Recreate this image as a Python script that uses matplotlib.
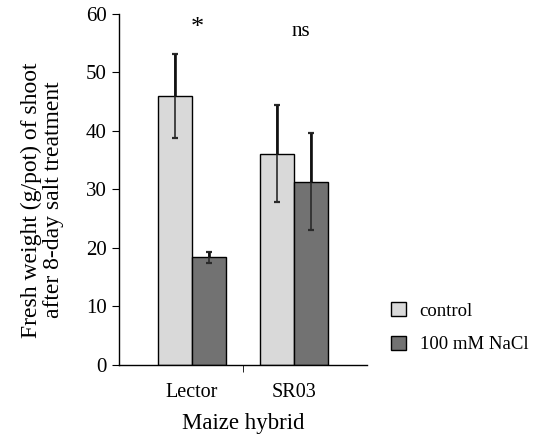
import matplotlib
matplotlib.use("Agg")
import matplotlib.pyplot as plt
import numpy as np
from matplotlib.patches import Patch

plt.rcParams['font.family'] = ['Liberation Serif', 'DejaVu Serif']

categories = ["Lector", "SR03"]
control = [46.0, 36.1]
control_err = [7.2, 8.3]
nacl = [18.4, 31.3]
nacl_err = [0.95, 8.3]
signif = ["*", "ns"]
series_labels = ["control", "100 mM NaCl"]

fig = plt.figure(figsize=(5.39, 4.34), dpi=100)
ax = fig.add_axes([0.221, 0.159, 0.46, 0.809])

x = np.arange(len(categories))
w = 0.33
c1, c2 = "#d9d9d9", "#727272"
ax.bar(x - w/2, control, w, color=c1, edgecolor="black", linewidth=1.0, zorder=2)
ax.bar(x + w/2, nacl, w, color=c2, edgecolor="black", linewidth=1.0, zorder=2)

for xs, vals, errs in [(x - w/2, control, control_err), (x + w/2, nacl, nacl_err)]:
    zeros = np.zeros(len(errs))
    ax.errorbar(xs, vals, yerr=errs, fmt="none", ecolor="#2a2a2a",
                elinewidth=1.2, capsize=2.5, capthick=1.6, zorder=3)
    ax.errorbar(xs, vals, yerr=[zeros, errs], fmt="none", ecolor="#111111",
                elinewidth=1.9, capsize=0, zorder=4)

ax.set_xlim(-0.716, 1.716)
ax.set_ylim(0, 60)
ax.set_yticks(range(0, 61, 10))
ax.set_xticks(x)
ax.set_xticklabels(categories, fontsize=14.5)
ax.set_xticks([0.5], minor=True)
ax.tick_params(axis='x', which='major', length=0, pad=13)
ax.tick_params(axis='x', which='minor', length=5, direction='out')
ax.tick_params(axis='y', length=5, direction='out', labelsize=15, pad=4)
for s in ["top", "right"]:
    ax.spines[s].set_visible(False)
ax.spines["left"].set_linewidth(1.0)
ax.spines["bottom"].set_linewidth(1.0)

ax.set_ylabel("Fresh weight (g/pot) of shoot\nafter 8-day salt treatment", fontsize=17, linespacing=1.05)
ax.yaxis.set_label_coords(-0.222, 0.47)
ax.set_xlabel("Maize hybrid", fontsize=16.5, labelpad=8)

ax.text(0.05, 57.6, signif[0], ha="center", va="center", fontsize=19)
ax.text(1.07, 57.0, signif[1], ha="center", va="center", fontsize=15)

handles = [Patch(facecolor=c1, edgecolor="black"), Patch(facecolor=c2, edgecolor="black")]
fig.legend(handles, series_labels, loc="center left", bbox_to_anchor=(0.695, 0.245),
           frameon=False, fontsize=13.5, handlelength=0.8, handleheight=0.8,
           handletextpad=0.7, labelspacing=0.85)

fig.savefig("out.png", dpi=100)
